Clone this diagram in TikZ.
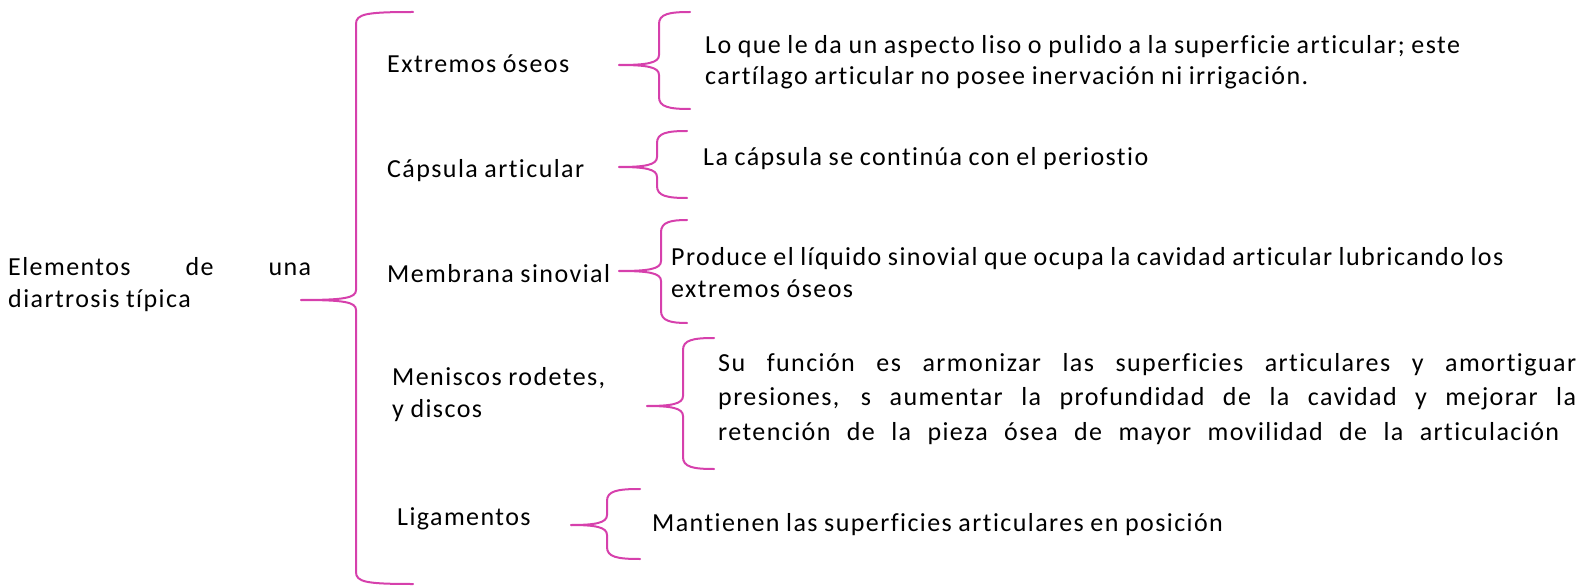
\documentclass[tikz,border=0pt]{standalone}
\usepackage{fontspec}
\setmainfont{Carlito}[LetterSpace=5.5, WordSpace=0.9, Ligatures=CommonOff]
\definecolor{bracecol}{RGB}{214,64,172}
\tikzset{
  txt/.style={anchor=base west, inner sep=0pt, font=\fontsize{26}{31.5}\selectfont, align=left},
  brc/.style={draw=bracecol, line width=2pt, line cap=round},
}
\newcommand{\mybrace}[6]{% tipx, tipy, vx, top, bottom, endx
  \coordinate (t#1) at (#1,#2);
  \draw[brc] (#1,#2) .. controls (#3-12,#2) and (#3,#2-2) .. (#3,#2-10)
     -- (#3,#4+12) .. controls (#3,#4+2) and (#3+10,#4) .. (#6,#4);
  \draw[brc] (#1,#2) .. controls (#3-12,#2) and (#3,#2+2) .. (#3,#2+10)
     -- (#3,#5-12) .. controls (#3,#5-2) and (#3+10,#5) .. (#6,#5);
}
\begin{document}
\begin{tikzpicture}[x=1pt,y=-1pt]
\useasboundingbox (0,0) rectangle (1585,588);
% braces
\mybrace{301}{300}{356}{12}{584}{413}
\mybrace{619}{65}{659}{12}{109}{690}
\mybrace{619}{167}{657}{131}{198}{687}
\mybrace{619}{271}{661}{220}{323}{687}
\mybrace{647}{406}{683}{338}{469}{714}
\mybrace{571}{525}{607}{489}{559}{640}
% left
\node[txt] (root) at (8,307) {\makebox[303pt][s]{Elementos de una}\\diartrosis típica};
% middle
\node[txt] (n1) at (387,73) {Extremos óseos};
\node[txt] (n2) at (387,178) {Cápsula articular};
\node[txt] (n3) at (387,282) {Membrana sinovial};
\node[txt] (n4) at (392,417) {Meniscos rodetes,\\y discos};
\node[txt] (n5) at (397,525) {Ligamentos};
% right
\node[txt] (d1) at (705,85) {Lo que le da un aspecto liso o pulido a la superficie articular; este\\cartílago articular no posee inervación ni irrigación.};
\node[txt] (d2) at (703,166) {La cápsula se continúa con el periostio};
\node[txt] (d3) at (671,297) {Produce el líquido sinovial que ocupa la cavidad articular lubricando los\\extremos óseos};
\node[txt, font=\fontsize{26}{34.5}\selectfont] (d4) at (718,440) {\makebox[858pt][s]{Su función es armonizar las superficies articulares y amortiguar}\\\makebox[858pt][s]{presiones, s aumentar la profundidad de la cavidad y mejorar la}\\\makebox[841pt][s]{retención de la pieza ósea de mayor movilidad de la articulación}};
\node[txt] (d5) at (652,531) {Mantienen las superficies articulares en posición};
\end{tikzpicture}
\end{document}
